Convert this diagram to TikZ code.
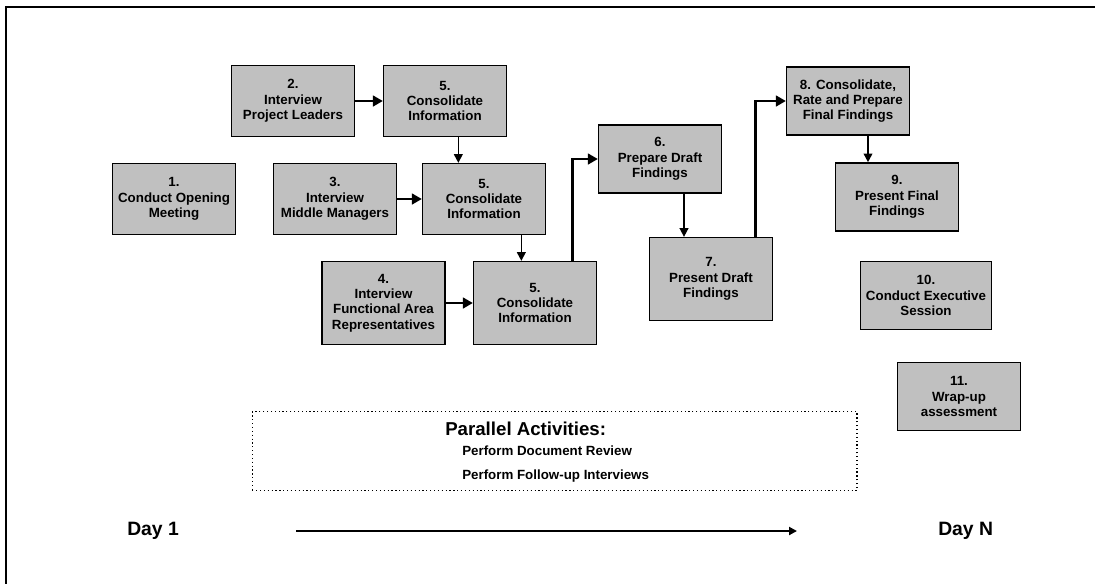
\documentclass[tikz,border=0pt]{standalone}
\usepackage{fontspec}
\setmainfont{Liberation Sans}
\usetikzlibrary{arrows.meta}

\definecolor{boxgray}{RGB}{192,192,192}

\tikzset{
  stepbox/.style={draw, line width=1.2pt, fill=boxgray, align=center, inner sep=0pt,
    minimum width=92pt, minimum height=53pt,
    font=\bfseries\fontsize{10}{11.5}\selectfont},
  tallbox/.style={stepbox, minimum height=62pt},
  bigarrow/.style={line width=2.2pt, -{Triangle[length=7.5pt,width=8pt]}},
  smallarrow/.style={line width=1.2pt, -{Triangle[length=6.5pt,width=6.5pt]}},
  daylabel/.style={font=\bfseries\fontsize{14.5}{16}\selectfont, inner sep=0pt}
}

\begin{document}
\begin{tikzpicture}[x=0.75pt,y=-0.75pt]
  \useasboundingbox (0,0) rectangle (1095,583);
  % frame
  \draw[line width=1.6pt] (1120,7) -- (6,7) -- (6,600);

  % steps
  \node[stepbox] (open) at (174,199) {1.\\Conduct Opening\\Meeting};
  \node[stepbox] (leaders) at (293,101) {2.\\Interview\\Project Leaders};
  \node[stepbox] (consA) at (445,101) {5.\\Consolidate\\Information};
  \node[stepbox] (managers) at (335,199) {3.\\Interview\\Middle Managers};
  \node[stepbox] (consB) at (484,199) {5.\\Consolidate\\Information};
  \node[tallbox] (reps) at (383.5,303) {4.\\Interview\\Functional Area\\Representatives};
  \node[tallbox] (consC) at (535,303) {5.\\Consolidate\\Information};
  \node[stepbox, minimum height=51pt] (draft) at (660,159) {6.\\Prepare Draft\\Findings};
  \node[tallbox] (present) at (711,279) {7.\\Present Draft\\Findings};
  \node[stepbox, minimum height=51pt] (final) at (848,101) {8. Consolidate,\\Rate and Prepare\\Final Findings};
  \node[stepbox, minimum height=51pt] (presfinal) at (897,197) {9.\\Present Final\\Findings};
  \node[stepbox, minimum height=51pt, minimum width=98pt] (exec) at (926,295.5) {10.\\Conduct Executive\\Session};
  \node[stepbox, minimum height=51pt] (wrap) at (959,396.5) {11.\\Wrap-up\\assessment};

  % connectors
  \draw[bigarrow] (leaders) -- (consA);
  \draw[bigarrow] (managers.east) -- (consB.west);
  \draw[bigarrow] (reps) -- (consC);
  \draw[smallarrow] ([xshift=10pt]consA.south) -- ([xshift=10pt]consA.south |- consB.north);
  \draw[smallarrow] ([xshift=28pt]consB.south) -- ([xshift=28pt]consB.south |- consC.north);
  \draw[bigarrow] ([xshift=28pt]consC.north) |- (draft.west);
  \draw[smallarrow] ([xshift=18pt]draft.south) -- ([xshift=18pt]draft.south |- present.north);
  \draw[bigarrow] ([xshift=33.5pt]present.north) |- (final.west);
  \draw[smallarrow] ([xshift=15pt]final.south) -- ([xshift=15pt]final.south |- presfinal.north);

  % parallel activities
  \node[draw, dotted, line width=0.9pt, minimum width=453.5pt, minimum height=59pt] (parallel) at (554.6,451.2) {};
  \node[anchor=west, inner sep=0pt, font=\bfseries\fontsize{14}{16}\selectfont] (partitle) at (445,429) {Parallel Activities:};
  \node[anchor=west, inner sep=0pt, font=\bfseries\fontsize{10}{12}\selectfont] (review) at (462,451) {Perform Document Review};
  \node[anchor=west, inner sep=0pt, font=\bfseries\fontsize{10}{12}\selectfont] (followup) at (462,476) {Perform Follow-up Interviews};

  % time line
  \node[daylabel, anchor=west] (dayone) at (127,531) {Day 1};
  \node[daylabel, anchor=west] (dayn) at (938,531) {Day N};
  \coordinate (tstart) at (296,531);
  \coordinate (tend) at (797,531);
  \draw[line width=1.5pt, -{Triangle[length=6pt,width=6pt]}] (tstart) -- (tend);
\end{tikzpicture}
\end{document}
